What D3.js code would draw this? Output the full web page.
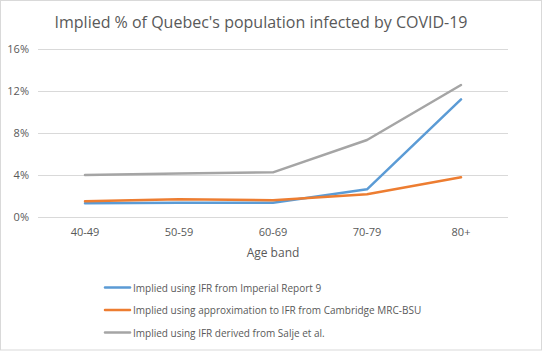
<!DOCTYPE html>
<html>
<head>
<meta charset="utf-8">
<script src="https://cdn.jsdelivr.net/npm/d3@7"></script>
<style>
  body { margin: 0; background: #fff; }
  text { font-family: "Open Sans", "Noto Sans", sans-serif; fill: #595959; }
</style>
</head>
<body>
<div id="chart"></div>
<script>
const ageBands = ["40-49", "50-59", "60-69", "70-79", "80+"];
const imperial = [1.3, 1.36, 1.36, 2.64, 11.2];
const cambridge = [1.5, 1.69, 1.6, 2.16, 3.78];
const salje = [4.0, 4.15, 4.25, 7.33, 12.57];
const yTicks = [0, 4, 8, 12, 16];

const seriesNames = [
    "Implied using IFR from Imperial Report 9",
    "Implied using approximation to IFR from Cambridge MRC-BSU",
    "Implied using IFR derived from Salje et al."
];
const seriesColors = ["#5b9bd5", "#ed7d31", "#a5a5a5"];
const series = [imperial, cambridge, salje];

const W = 545, H = 351;
const svg = d3.select("#chart").append("svg")
    .attr("width", W)
    .attr("height", H);

// Chart border
svg.append("rect")
    .attr("x", 0.5).attr("y", 0.5)
    .attr("width", 541).attr("height", 349.5)
    .attr("fill", "#fff")
    .attr("stroke", "#d9d9d9");

// Title
svg.append("text")
    .attr("x", 261)
    .attr("y", 28)
    .attr("text-anchor", "middle")
    .style("font-size", "16px")
    .text("Implied % of Quebec's population infected by COVID-19");

// Scales
const x = d3.scaleBand()
    .domain(ageBands)
    .range([38, 508]);

const y = d3.scaleLinear()
    .domain([0, 16])
    .range([217, 49]);

// Gridlines
svg.append("g")
    .selectAll("line")
    .data(yTicks)
    .enter()
    .append("line")
    .attr("x1", 38)
    .attr("x2", 508)
    .attr("y1", d => Math.round(y(d)) + 0.5)
    .attr("y2", d => Math.round(y(d)) + 0.5)
    .attr("stroke", "#d9d9d9");

// Y axis labels
svg.append("g")
    .selectAll("text")
    .data(yTicks)
    .enter()
    .append("text")
    .attr("x", 29)
    .attr("y", d => y(d) + 4)
    .attr("text-anchor", "end")
    .style("font-size", "11px")
    .text(d => d + "%");

// X axis labels
svg.append("g")
    .selectAll("text")
    .data(ageBands)
    .enter()
    .append("text")
    .attr("x", d => x(d) + x.bandwidth() / 2)
    .attr("y", 236)
    .attr("text-anchor", "middle")
    .style("font-size", "11px")
    .text(d => d);

svg.append("text")
    .attr("x", 273)
    .attr("y", 257)
    .attr("text-anchor", "middle")
    .style("font-size", "12px")
    .text("Age band");

// Lines
const line = d3.line()
    .x((d, i) => x(ageBands[i]) + x.bandwidth() / 2)
    .y(d => y(d));

svg.append("g")
    .selectAll("path")
    .data(series)
    .enter()
    .append("path")
    .attr("d", d => line(d))
    .attr("fill", "none")
    .attr("stroke", (d, i) => seriesColors[i])
    .attr("stroke-width", 2.5)
    .attr("stroke-linejoin", "round")
    .attr("stroke-linecap", "round");

// Legend
const legend = svg.append("g")
    .selectAll("g")
    .data(seriesNames)
    .enter()
    .append("g")
    .attr("transform", (d, i) => `translate(105,${287.5 + i * 22.5})`);

legend.append("line")
    .attr("x1", 0)
    .attr("x2", 25)
    .attr("stroke", (d, i) => seriesColors[i])
    .attr("stroke-width", 2.5)
    .attr("stroke-linecap", "round");

legend.append("text")
    .attr("x", 28)
    .attr("y", 4)
    .style("font-size", "10px")
    .text(d => d);
</script>
</body>
</html>
